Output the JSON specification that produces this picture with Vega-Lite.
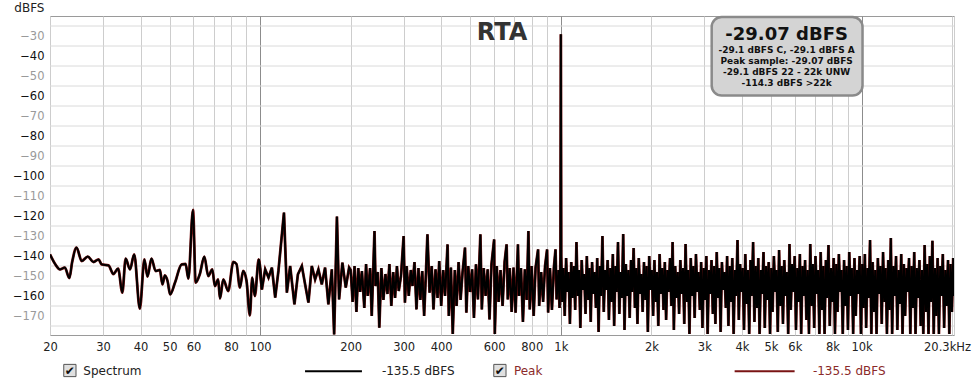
{
  "$schema": "https://vega.github.io/schema/vega-lite/v6.json",
  "width": 904,
  "height": 319,
  "autosize": "none",
  "padding": {"left": 50, "top": 16, "right": 26, "bottom": 51},
  "background": "white",
  "config": {
    "font": "DejaVu Sans",
    "view": {"stroke": "#9a9a9a", "strokeWidth": 1},
    "axisY": {"labelOverlap": false},
    "axisX": {"labelOverlap": false}
  },
  "resolve": {"axis": {"x": "independent", "y": "independent"}},
  "datasets": {
    "minor": [{"g":-175},{"g":-165},{"g":-155},{"g":-145},{"g":-135},{"g":-125},{"g":-115},{"g":-105},{"g":-95},{"g":-85},{"g":-75},{"g":-65},{"g":-55},{"g":-45},{"g":-35},{"g":-25}],
    "spec": [
      {"f":20,"db":-139.2},{"f":20.8,"db":-144},{"f":21.6,"db":-146.7},{"f":22.4,"db":-145.8},{"f":23.2,"db":-151},{"f":23.7,"db":-143},{"f":24.5,"db":-135.8},{"f":25.5,"db":-142.5},{"f":26.7,"db":-140.3},{"f":27.9,"db":-143},{"f":29.0,"db":-141.7},{"f":29.7,"db":-144.2},{"f":31.3,"db":-144.7},{"f":32.5,"db":-149},{"f":33.7,"db":-146.3},{"f":34.8,"db":-158.3},{"f":35.7,"db":-141.3},{"f":36.9,"db":-146.7},{"f":38.1,"db":-139.2},{"f":39.8,"db":-166.3},{"f":41.2,"db":-141.7},{"f":42.2,"db":-150.3},{"f":43.5,"db":-141.3},{"f":44.9,"db":-147.5},{"f":46.4,"db":-147},{"f":47.3,"db":-154.2},{"f":48.2,"db":-149.7},{"f":49.2,"db":-152.5},{"f":50.2,"db":-159.2},{"f":52.1,"db":-153.3},{"f":54.8,"db":-144.2},{"f":56.5,"db":-144},{"f":57.7,"db":-151.3},{"f":59.8,"db":-117},{"f":61.0,"db":-153.3},{"f":63.0,"db":-149},{"f":65.2,"db":-140.3},{"f":67.2,"db":-150},{"f":69.3,"db":-146.7},{"f":70.7,"db":-155},{"f":72.5,"db":-151.7},{"f":73.5,"db":-161.3},{"f":75.4,"db":-151.7},{"f":78.3,"db":-157.5},{"f":81.4,"db":-143},{"f":83.4,"db":-144},{"f":85.6,"db":-155.8},{"f":87.8,"db":-147.5},{"f":90.1,"db":-152.5},{"f":92.4,"db":-169.7},{"f":94.1,"db":-150.8},{"f":96.0,"db":-160},{"f":98.9,"db":-141.7},
      {"f":101.3,"db":-156.7},{"f":103.9,"db":-146.7},{"f":106.6,"db":-150.8},{"f":109.4,"db":-145.8},{"f":112.2,"db":-160.8},{"f":115.0,"db":-147.5},{"f":120,"db":-118.3},{"f":122.7,"db":-158.3},{"f":125.8,"db":-145},{"f":130.0,"db":-164.2},{"f":133.5,"db":-149.2},{"f":137.6,"db":-145},{"f":141.1,"db":-154.2},{"f":144.7,"db":-163.3},{"f":148.5,"db":-145},{"f":152.3,"db":-151.7},{"f":156.2,"db":-146.7},{"f":160.3,"db":-154.2},{"f":164.4,"db":-145.8},{"f":168.6,"db":-164.2},{"f":173.1,"db":-146.7},{"f":176.2,"db":-179.2},{"f":180,"db":-120.3},{"f":183.0,"db":-161.7},{"f":187.7,"db":-143.3},{"f":192.6,"db":-155.8},{"f":197.6,"db":-145.8},
      {"f":200,"db":-147},{"f":203,"db":-163},{"f":206,"db":-145},{"f":209,"db":-168},{"f":212,"db":-146},{"f":215,"db":-158},{"f":218,"db":-147.5},{"f":222,"db":-166},{"f":225,"db":-144},{"f":228,"db":-160},{"f":232,"db":-146},{"f":235,"db":-170},{"f":240,"db":-127.5},{"f":242,"db":-155},{"f":246,"db":-148},{"f":249,"db":-175.8},{"f":253,"db":-146},{"f":257,"db":-162},{"f":261,"db":-149},{"f":265,"db":-159},{"f":269,"db":-144},{"f":273,"db":-165},{"f":277,"db":-148},{"f":281,"db":-161},{"f":285,"db":-145},{"f":289,"db":-157.5},{"f":294,"db":-150},{"f":300,"db":-130},{"f":303,"db":-163.3},{"f":307,"db":-145},{"f":312,"db":-160},{"f":317,"db":-147},{"f":321,"db":-155},{"f":326,"db":-143},{"f":331,"db":-166.7},{"f":336,"db":-146},{"f":341,"db":-162},{"f":346,"db":-147.5},{"f":351,"db":-170},{"f":356,"db":-148},{"f":360,"db":-129.2},{"f":366,"db":-158.3},{"f":372,"db":-145},{"f":377,"db":-166.7},{"f":383,"db":-146.7},{"f":389,"db":-161},{"f":394,"db":-142.5},{"f":400,"db":-165},{"f":406,"db":-147},{"f":412,"db":-160},{"f":420,"db":-134.2},{"f":424,"db":-170},{"f":431,"db":-145.8},{"f":437,"db":-179},{"f":444,"db":-147},{"f":450,"db":-165},{"f":457,"db":-143},{"f":464,"db":-162},{"f":471,"db":-148.3},{"f":480,"db":-135.8},{"f":485,"db":-168.3},{"f":492,"db":-145},{"f":499,"db":-158},{"f":507,"db":-146.7},{"f":514,"db":-171},{"f":522,"db":-144.2},{"f":530,"db":-161.7},{"f":540,"db":-129.2},{"f":546,"db":-166.7},{"f":554,"db":-146},{"f":562,"db":-160},{"f":571,"db":-146.7},{"f":579,"db":-171.7},{"f":588,"db":-144},{"f":600,"db":-131.7},{"f":603,"db":-179},{"f":612,"db":-145},{"f":621,"db":-163},{"f":630,"db":-147},{"f":640,"db":-165},{"f":650,"db":-143},{"f":660,"db":-134.2},{"f":666,"db":-161.7},{"f":676,"db":-146},{"f":686,"db":-168},{"f":696,"db":-145.8},{"f":707,"db":-168.3},{"f":720,"db":-134.2},{"f":726,"db":-160},{"f":737,"db":-146},{"f":748,"db":-173},{"f":759,"db":-146.7},{"f":770,"db":-162},{"f":780,"db":-127.5},{"f":788,"db":-166.7},{"f":800,"db":-145},{"f":812,"db":-170},{"f":824,"db":-145.8},{"f":840,"db":-136.7},{"f":847,"db":-165},{"f":860,"db":-148},{"f":873,"db":-163},{"f":886,"db":-145},{"f":900,"db":-136.7},{"f":907,"db":-168.3},{"f":920,"db":-146},{"f":934,"db":-167},{"f":948,"db":-145.8},{"f":960,"db":-136.7},{"f":968,"db":-161.7},{"f":982,"db":-147},{"f":990,"db":-166},{"f":997,"db":-140},{"f":1000,"db":-29.07},{"f":1003,"db":-140},
      {"f":1010,"db":-163},{"f":1020,"db":-146},{"f":1030,"db":-170},{"f":1041,"db":-141},{"f":1051,"db":-158},{"f":1062,"db":-148},{"f":1072,"db":-174},{"f":1083,"db":-143},{"f":1094,"db":-161},{"f":1105,"db":-145},
      {"f":1116,"db":-167},{"f":1127,"db":-133},{"f":1138,"db":-160},{"f":1150,"db":-147},{"f":1161,"db":-176},{"f":1173,"db":-142},{"f":1185,"db":-157},{"f":1196,"db":-149},{"f":1208,"db":-169},{"f":1220,"db":-140},
      {"f":1233,"db":-162},{"f":1245,"db":-146},{"f":1257,"db":-173},{"f":1270,"db":-143},{"f":1283,"db":-159},{"f":1295,"db":-148},{"f":1308,"db":-166},{"f":1321,"db":-141},{"f":1335,"db":-178},{"f":1348,"db":-145},
      {"f":1361,"db":-160},{"f":1375,"db":-130},{"f":1389,"db":-168},{"f":1403,"db":-147},{"f":1417,"db":-157},{"f":1431,"db":-142},{"f":1445,"db":-172},{"f":1460,"db":-146},{"f":1474,"db":-163},{"f":1489,"db":-139},
      {"f":1504,"db":-175},{"f":1519,"db":-145},{"f":1534,"db":-158},{"f":1549,"db":-133},{"f":1565,"db":-169},{"f":1580,"db":-148},{"f":1596,"db":-161},{"f":1612,"db":-129},{"f":1628,"db":-177},{"f":1645,"db":-144},
      {"f":1661,"db":-160},{"f":1678,"db":-147},{"f":1694,"db":-171},{"f":1711,"db":-142},{"f":1728,"db":-158},{"f":1746,"db":-136},{"f":1763,"db":-166},{"f":1781,"db":-146},{"f":1798,"db":-174},{"f":1816,"db":-141},
      {"f":1835,"db":-159},{"f":1853,"db":-149},{"f":1871,"db":-168},{"f":1890,"db":-143},{"f":1909,"db":-162},{"f":1928,"db":-145},{"f":1947,"db":-178},{"f":1967,"db":-140},{"f":1987,"db":-157},{"f":2007,"db":-147},
      {"f":2027,"db":-170},{"f":2047,"db":-142},{"f":2068,"db":-163},{"f":2088,"db":-148},{"f":2109,"db":-175},{"f":2130,"db":-139},{"f":2151,"db":-159},{"f":2173,"db":-146},{"f":2195,"db":-167},{"f":2217,"db":-143},
      {"f":2239,"db":-172},{"f":2261,"db":-147},{"f":2284,"db":-158},{"f":2307,"db":-141},{"f":2330,"db":-165},{"f":2353,"db":-133},{"f":2376,"db":-177},{"f":2400,"db":-145},{"f":2424,"db":-161},{"f":2448,"db":-148},
      {"f":2473,"db":-169},{"f":2497,"db":-142},{"f":2522,"db":-159},{"f":2548,"db":-146},{"f":2573,"db":-174},{"f":2599,"db":-134},{"f":2625,"db":-163},{"f":2651,"db":-147},{"f":2677,"db":-179},{"f":2704,"db":-141},
      {"f":2731,"db":-160},{"f":2758,"db":-145},{"f":2786,"db":-171},{"f":2814,"db":-139},{"f":2842,"db":-158},{"f":2870,"db":-148},{"f":2899,"db":-167},{"f":2928,"db":-143},{"f":2957,"db":-176},{"f":2987,"db":-146},
      {"f":3017,"db":-162},{"f":3047,"db":-140},{"f":3077,"db":-179},{"f":3108,"db":-147},{"f":3139,"db":-159},{"f":3170,"db":-142},{"f":3202,"db":-169},{"f":3234,"db":-145},{"f":3266,"db":-174},{"f":3299,"db":-138},
      {"f":3332,"db":-161},{"f":3365,"db":-146},{"f":3399,"db":-178},{"f":3433,"db":-143},{"f":3467,"db":-157},{"f":3502,"db":-148},{"f":3537,"db":-166},{"f":3572,"db":-140},{"f":3608,"db":-175},{"f":3644,"db":-145},
      {"f":3681,"db":-163},{"f":3717,"db":-141},{"f":3755,"db":-179},{"f":3792,"db":-147},{"f":3830,"db":-160},{"f":3868,"db":-132},{"f":3907,"db":-172},{"f":3946,"db":-144},{"f":3985,"db":-158},{"f":4025,"db":-146},
      {"f":4066,"db":-177},{"f":4106,"db":-139},{"f":4147,"db":-164},{"f":4189,"db":-147},{"f":4231,"db":-179},{"f":4273,"db":-142},{"f":4316,"db":-160},{"f":4359,"db":-133},{"f":4403,"db":-173},{"f":4447,"db":-145},
      {"f":4491,"db":-166},{"f":4536,"db":-141},{"f":4581,"db":-179},{"f":4627,"db":-147},{"f":4673,"db":-159},{"f":4720,"db":-138},{"f":4767,"db":-176},{"f":4815,"db":-145},{"f":4863,"db":-162},{"f":4912,"db":-143},
      {"f":4961,"db":-179},{"f":5010,"db":-146},{"f":5060,"db":-168},{"f":5111,"db":-140},{"f":5162,"db":-158},{"f":5214,"db":-147},{"f":5266,"db":-178},{"f":5318,"db":-137},{"f":5372,"db":-165},{"f":5425,"db":-145},
      {"f":5479,"db":-174},{"f":5534,"db":-142},{"f":5590,"db":-160},{"f":5645,"db":-148},{"f":5702,"db":-179},{"f":5759,"db":-134},{"f":5817,"db":-167},{"f":5875,"db":-144},{"f":5934,"db":-158},{"f":5993,"db":-140},
      {"f":6053,"db":-177},{"f":6113,"db":-146},{"f":6175,"db":-163},{"f":6236,"db":-139},{"f":6299,"db":-179},{"f":6362,"db":-145},{"f":6425,"db":-160},{"f":6490,"db":-142},{"f":6555,"db":-172},{"f":6620,"db":-147},
      {"f":6686,"db":-179},{"f":6753,"db":-134},{"f":6821,"db":-165},{"f":6889,"db":-144},{"f":6958,"db":-176},{"f":7027,"db":-140},{"f":7098,"db":-159},{"f":7169,"db":-147},{"f":7240,"db":-179},{"f":7313,"db":-138},
      {"f":7386,"db":-167},{"f":7460,"db":-145},{"f":7534,"db":-179},{"f":7610,"db":-142},{"f":7686,"db":-161},{"f":7763,"db":-134.5},{"f":7840,"db":-175},{"f":7919,"db":-146},{"f":7998,"db":-163},{"f":8078,"db":-141},
      {"f":8159,"db":-179},{"f":8240,"db":-144},{"f":8323,"db":-168},{"f":8406,"db":-139},{"f":8490,"db":-158},{"f":8575,"db":-147},{"f":8661,"db":-179},{"f":8747,"db":-142},{"f":8835,"db":-165},{"f":8923,"db":-145},
      {"f":9012,"db":-177},{"f":9102,"db":-138},{"f":9194,"db":-160},{"f":9285,"db":-146},{"f":9378,"db":-179},{"f":9472,"db":-141},{"f":9567,"db":-170},{"f":9662,"db":-147},{"f":9759,"db":-159},{"f":9857,"db":-140},
      {"f":9955,"db":-179},{"f":10055,"db":-144},{"f":10155,"db":-166},{"f":10257,"db":-139},{"f":10359,"db":-176},{"f":10463,"db":-146},{"f":10568,"db":-161},{"f":10673,"db":-132},{"f":10780,"db":-179},{"f":10888,"db":-143},
      {"f":10997,"db":-168},{"f":11107,"db":-147},{"f":11218,"db":-179},{"f":11330,"db":-141},{"f":11443,"db":-159},{"f":11558,"db":-145},{"f":11673,"db":-174},{"f":11790,"db":-138},{"f":11908,"db":-163},{"f":12027,"db":-146},
      {"f":12147,"db":-179},{"f":12269,"db":-142},{"f":12392,"db":-167},{"f":12515,"db":-131},{"f":12641,"db":-179},{"f":12767,"db":-145},{"f":12895,"db":-160},{"f":13024,"db":-140},{"f":13154,"db":-177},{"f":13285,"db":-147},
      {"f":13418,"db":-164},{"f":13552,"db":-139},{"f":13688,"db":-179},{"f":13825,"db":-144},{"f":13963,"db":-170},{"f":14103,"db":-146},{"f":14244,"db":-158},{"f":14386,"db":-141},{"f":14530,"db":-179},{"f":14675,"db":-145},
      {"f":14822,"db":-166},{"f":14970,"db":-138},{"f":15120,"db":-179},{"f":15271,"db":-146},{"f":15424,"db":-161},{"f":15578,"db":-142},{"f":15734,"db":-175},{"f":15891,"db":-147},{"f":16050,"db":-179},{"f":16211,"db":-134.5},
      {"f":16373,"db":-168},{"f":16536,"db":-144},{"f":16702,"db":-179},{"f":16869,"db":-140},{"f":17038,"db":-163},{"f":17208,"db":-132.4},{"f":17380,"db":-179},{"f":17554,"db":-146},{"f":17729,"db":-170},{"f":17907,"db":-141},
      {"f":18086,"db":-179},{"f":18267,"db":-145},{"f":18449,"db":-160},{"f":18634,"db":-139},{"f":18820,"db":-176},{"f":19008,"db":-147},{"f":19199,"db":-165},{"f":19391,"db":-142},{"f":19585,"db":-179},{"f":19780,"db":-144},
      {"f":19978,"db":-168},{"f":20178,"db":-141},{"f":20300,"db":-160}
    ]
  },
  "layer": [
    {
      "data": {"name": "minor"},
      "mark": {"type": "rule", "color": "#dadada", "strokeWidth": 1},
      "encoding": {
        "y": {"field": "g", "type": "quantitative", "axis": null}
      }
    },
    {
      "data": {"name": "spec"},
      "transform": [{"filter": "datum.f <= 101.3"}],
      "mark": {"type": "line", "color": "#7a1414", "strokeWidth": 2.8, "interpolate": "monotone", "clip": true},
      "encoding": {
        "x": {"field": "f", "type": "quantitative",
          "scale": {"type": "log", "domain": [20, 20300], "nice": false},
          "axis": {"title": null,
            "values": [20,30,40,50,60,70,80,90,100,200,300,400,500,600,700,800,900,1000,2000,3000,4000,5000,6000,7000,8000,9000,10000,20000,20300],
            "labelExpr": "datum.value == 20300 ? '20.3kHz' : indexof([70,90,500,700,900,7000,9000,20000], datum.value) >= 0 ? '' : datum.value >= 1000 ? (datum.value / 1000) + 'k' : '' + datum.value",
            "ticks": false, "domain": false, "grid": true,
            "gridColor": {"condition": {"test": "datum.value == 100 || datum.value == 1000 || datum.value == 10000", "value": "#8c8c8c"}, "value": "#cdcdcd"},
            "labelFontSize": 11.5, "labelColor": "#222222", "labelPadding": 6,
            "labelOverlap": false, "labelFlush": false, "labelBound": false,
            "labelOffset": {"condition": {"test": "datum.value == 20300", "value": -7}, "value": 0}
          }
        },
        "y": {"field": "db", "type": "quantitative",
          "scale": {"domain": [-179.5, -20], "nice": false, "zero": false},
          "axis": {"title": "dBFS", "titleAngle": 0, "titleAlign": "right", "titleBaseline": "alphabetic",
            "titleX": -6, "titleY": -5, "titleFontSize": 12, "titleFontWeight": "normal", "titleColor": "#222222",
            "values": [-170,-160,-150,-140,-130,-120,-110,-100,-90,-80,-70,-60,-50,-40,-30],
            "labelOverlap": false,
            "labelColor": {"condition": {"test": "datum.value % 20 == 0", "value": "#111111"}, "value": "#9a9a9a"},
            "gridColor": {"condition": {"test": "datum.value % 20 == 0", "value": "#b4b4b4"}, "value": "#d6d6d6"},
            "ticks": false, "domain": false, "labelPadding": 6, "labelFontSize": 11.5
          }
        }
      }
    },
    {
      "data": {"name": "spec"},
      "transform": [{"filter": "datum.f >= 98.9"}],
      "mark": {"type": "line", "color": "#7a1414", "strokeWidth": 2.8, "interpolate": "linear", "clip": true},
      "encoding": {
        "x": {"field": "f", "type": "quantitative", "axis": null},
        "y": {"field": "db", "type": "quantitative", "axis": null}
      }
    },
    {
      "data": {"name": "spec"},
      "transform": [{"filter": "datum.f <= 101.3"}],
      "mark": {"type": "line", "color": "#000000", "strokeWidth": 2, "interpolate": "monotone", "clip": true},
      "encoding": {
        "x": {"field": "f", "type": "quantitative", "axis": null},
        "y": {"field": "db", "type": "quantitative", "axis": null}
      }
    },
    {
      "data": {"name": "spec"},
      "transform": [{"filter": "datum.f >= 98.9"}],
      "mark": {"type": "line", "color": "#000000", "strokeWidth": 2, "interpolate": "linear", "clip": true},
      "encoding": {
        "x": {"field": "f", "type": "quantitative", "axis": null},
        "y": {"field": "db", "type": "quantitative", "axis": null}
      }
    },
    {
      "data": {"values": [{}]},
      "mark": {"type": "text", "text": "RTA", "fontSize": 24, "fontWeight": "bold", "color": "#333333", "align": "center", "baseline": "alphabetic"},
      "encoding": {
        "x": {"datum": 637, "type": "quantitative", "axis": null},
        "y": {"datum": -32, "type": "quantitative", "axis": null}
      }
    },
    {
      "data": {"values": [{}]},
      "mark": {"type": "rect", "cornerRadius": 10, "fill": "#d4d4d4", "stroke": "#8a8a8a", "strokeWidth": 2.5},
      "encoding": {
        "x": {"datum": 3174, "type": "quantitative", "axis": null},
        "x2": {"datum": 10076},
        "y": {"datum": -20.5, "type": "quantitative", "axis": null},
        "y2": {"datum": -59.8}
      }
    },
    {
      "data": {"values": [{}]},
      "mark": {"type": "text", "text": "-29.07 dBFS", "fontSize": 18, "fontWeight": "bold", "color": "#111111", "align": "center", "baseline": "alphabetic"},
      "encoding": {
        "x": {"datum": 5634, "type": "quantitative", "axis": null},
        "y": {"datum": -31.75, "type": "quantitative", "axis": null}
      }
    },
    {
      "data": {"values": [{}]},
      "mark": {"type": "text", "text": ["-29.1 dBFS C, -29.1 dBFS A", "Peak sample: -29.07 dBFS", "-29.1 dBFS 22 - 22k UNW", "-114.3 dBFS >22k"], "lineHeight": 11.1, "fontSize": 9, "fontWeight": "bold", "color": "#111111", "align": "center", "baseline": "alphabetic"},
      "encoding": {
        "x": {"datum": 5634, "type": "quantitative", "axis": null},
        "y": {"datum": -38.4, "type": "quantitative", "axis": null}
      }
    },
    {
      "data": {"values": [{}]},
      "mark": {"type": "square", "size": 150, "filled": true, "fill": "#e0e0e0", "stroke": "#555555", "strokeWidth": 1, "opacity": 1},
      "encoding": {
        "x": {"datum": 23.29, "type": "quantitative", "axis": null},
        "y": {"datum": -197.25, "type": "quantitative", "axis": null}
      }
    },
    {
      "data": {"values": [{}]},
      "mark": {"type": "text", "text": "✔", "fontSize": 12, "color": "#111111", "align": "center", "baseline": "middle"},
      "encoding": {
        "x": {"datum": 23.29, "type": "quantitative", "axis": null},
        "y": {"datum": -197.25, "type": "quantitative", "axis": null}
      }
    },
    {
      "data": {"values": [{}]},
      "mark": {"type": "text", "text": "Spectrum", "fontSize": 12, "color": "#222222", "align": "left", "baseline": "middle"},
      "encoding": {
        "x": {"datum": 25.82, "type": "quantitative", "axis": null},
        "y": {"datum": -197.25, "type": "quantitative", "axis": null}
      }
    },
    {
      "data": {"values": [{}]},
      "mark": {"type": "rule", "color": "#000000", "strokeWidth": 2},
      "encoding": {
        "x": {"datum": 141, "type": "quantitative", "axis": null},
        "x2": {"datum": 218},
        "y": {"datum": -197.6, "type": "quantitative", "axis": null}
      }
    },
    {
      "data": {"values": [{}]},
      "mark": {"type": "text", "text": "-135.5 dBFS", "fontSize": 12, "color": "#222222", "align": "left", "baseline": "middle"},
      "encoding": {
        "x": {"datum": 254, "type": "quantitative", "axis": null},
        "y": {"datum": -197.25, "type": "quantitative", "axis": null}
      }
    },
    {
      "data": {"values": [{}]},
      "mark": {"type": "square", "size": 150, "filled": true, "fill": "#e0e0e0", "stroke": "#555555", "strokeWidth": 1, "opacity": 1},
      "encoding": {
        "x": {"datum": 627, "type": "quantitative", "axis": null},
        "y": {"datum": -197.25, "type": "quantitative", "axis": null}
      }
    },
    {
      "data": {"values": [{}]},
      "mark": {"type": "text", "text": "✔", "fontSize": 12, "color": "#111111", "align": "center", "baseline": "middle"},
      "encoding": {
        "x": {"datum": 627, "type": "quantitative", "axis": null},
        "y": {"datum": -197.25, "type": "quantitative", "axis": null}
      }
    },
    {
      "data": {"values": [{}]},
      "mark": {"type": "text", "text": "Peak", "fontSize": 12, "color": "#8b2a2a", "align": "left", "baseline": "middle"},
      "encoding": {
        "x": {"datum": 698, "type": "quantitative", "axis": null},
        "y": {"datum": -197.25, "type": "quantitative", "axis": null}
      }
    },
    {
      "data": {"values": [{}]},
      "mark": {"type": "rule", "color": "#7a1414", "strokeWidth": 2},
      "encoding": {
        "x": {"datum": 3784, "type": "quantitative", "axis": null},
        "x2": {"datum": 5990},
        "y": {"datum": -197.6, "type": "quantitative", "axis": null}
      }
    },
    {
      "data": {"values": [{}]},
      "mark": {"type": "text", "text": "-135.5 dBFS", "fontSize": 12, "color": "#8b2a2a", "align": "left", "baseline": "middle"},
      "encoding": {
        "x": {"datum": 6890, "type": "quantitative", "axis": null},
        "y": {"datum": -197.25, "type": "quantitative", "axis": null}
      }
    }
  ]
}
